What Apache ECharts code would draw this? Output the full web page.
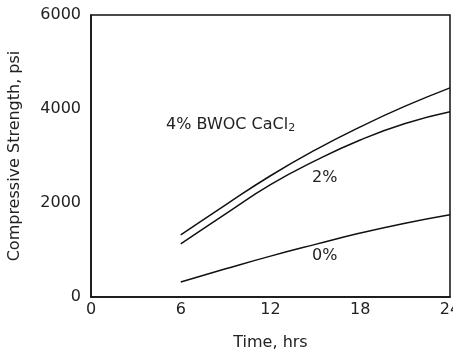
<!DOCTYPE html>
<html>
<head>
<meta charset="utf-8">
<script src="https://cdn.jsdelivr.net/npm/echarts@6/dist/echarts.min.js"></script>
<style>html,body{margin:0;padding:0;background:#fff}#c{width:453px;height:358px}</style>
</head>
<body>
<div id="c"></div>
<script>
var hours = [6, 9, 12, 15, 18, 21, 24];
var pct4 = [1320, 1960, 2580, 3130, 3620, 4060, 4450];
var pct2 = [1130, 1770, 2390, 2900, 3340, 3690, 3940];
var pct0 = [320, 600, 870, 1120, 1360, 1570, 1750];
var xTicks = [0, 6, 12, 18, 24];
var yTicks = [0, 2000, 4000, 6000];

function pairs(v){ return hours.map(function(h,i){return [h, v[i]];}); }
var font = 'DejaVu Sans, Liberation Sans, sans-serif';
var chart = echarts.init(document.getElementById('c'));
var lineStyle = {color:'#111', width:1.5};
chart.setOption({
  animation:false,
  grid:{left:91, right:3, top:15, bottom:61, show:true, borderColor:'#111', borderWidth:1.5,
    containLabel:false, outerBoundsMode:'none'},
  xAxis:{type:'value', min:0, max:24, interval:6,
    name:'Time, hrs', nameLocation:'middle', nameGap:38,
    nameTextStyle:{fontFamily:font, fontSize:16, color:'#222'},
    axisLine:{show:true, lineStyle:{color:'#111', width:1.5}}, axisTick:{show:false}, splitLine:{show:false},
    axisLabel:{fontFamily:font, fontSize:16, color:'#222', margin:5, showMaxLabel:true,
      formatter:function(v){return String(v);}}},
  yAxis:{type:'value', min:0, max:6000, interval:2000,
    name:'Compressive Strength, psi', nameLocation:'middle', nameGap:68,
    nameTextStyle:{fontFamily:font, fontSize:16, color:'#222'},
    axisLine:{show:true, lineStyle:{color:'#111', width:1.5}}, axisTick:{show:false}, splitLine:{show:false},
    axisLabel:{fontFamily:font, fontSize:16, color:'#222', margin:10,
      formatter:function(v){return String(v);}}},
  series:[
    {type:'line', data:pairs(pct4), smooth:0.5, symbol:'none', lineStyle:lineStyle},
    {type:'line', data:pairs(pct2), smooth:0.5, symbol:'none', lineStyle:lineStyle},
    {type:'line', data:pairs(pct0), smooth:0.5, symbol:'none', lineStyle:lineStyle}
  ],
  graphic:[
    {type:'text', left:166, top:117, style:{text:'4% BWOC CaCl{s|2}', fontFamily:font, fontSize:16, fill:'#222',
      rich:{s:{fontSize:11, fontFamily:font, fill:'#222', padding:[7,0,0,0]}}}},
    {type:'text', left:312, top:170, style:{text:'2%', fontFamily:font, fontSize:16, fill:'#222'}},
    {type:'text', left:312, top:248, style:{text:'0%', fontFamily:font, fontSize:16, fill:'#222'}}
  ]
});
</script>
</body>
</html>
